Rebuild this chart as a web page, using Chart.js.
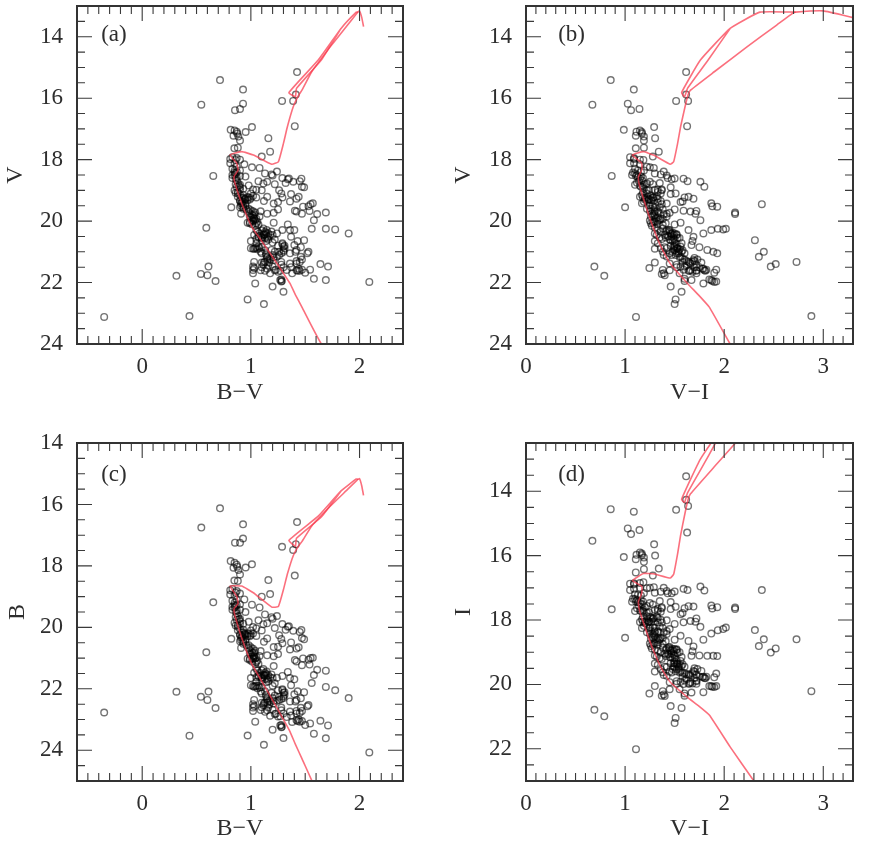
<!DOCTYPE html>
<html><head><meta charset="utf-8">
<script src="https://cdn.jsdelivr.net/npm/chart.js@4/dist/chart.umd.min.js"></script>
<style>
html,body{margin:0;padding:0;background:#fff;width:872px;height:846px;overflow:hidden}
canvas{position:absolute;filter:blur(0.55px)}
</style></head><body>
<canvas id="pa" width="436" height="424" style="left:0;top:0"></canvas>
<canvas id="pb" width="436" height="424" style="left:436px;top:0"></canvas>
<canvas id="pc" width="436" height="422" style="left:0;top:424px"></canvas>
<canvas id="pd" width="436" height="422" style="left:436px;top:424px"></canvas>
<script>
// Stars, one column per quantity (V magnitude, B-V colour, V-I colour)
const starV=[15.15,15.41,15.72,15.88,16.09,16.09,16.21,16.18,16.39,16.35,16.91,16.94,17.03,17.09,17.10,17.22,17.25,17.30,17.38,17.63,17.61,17.74,17.90,17.15,17.05,
17.92,17.95,18.00,18.01,17.98,18.12,18.12,18.15,18.23,18.25,18.27,18.30,18.42,18.45,18.48,18.39,18.52,18.50,18.53,18.58,18.55,18.50,18.53,18.35,
18.60,18.64,18.61,18.76,18.62,18.70,18.72,18.88,18.90,18.70,18.84,18.78,18.72,18.98,18.97,18.85,18.95,19.00,18.82,18.88,19.00,19.00,19.12,19.10,19.21,19.27,19.23,19.36,19.23,19.18,19.23,19.23,19.25,19.21,19.30,19.35,
19.21,19.35,19.43,19.38,19.53,19.42,19.52,19.45,19.66,19.69,19.67,19.76,19.77,19.72,19.97,19.62,19.73,19.76,19.68,19.68,19.75,19.55,19.48,19.55,19.76,19.60,19.80,19.85,19.92,19.97,20.07,20.05,20.07,20.05,20.11,
20.22,20.25,20.25,20.27,20.40,20.29,20.29,20.29,20.24,20.29,20.34,20.40,20.29,20.45,20.43,20.53,20.45,20.53,20.62,20.72,20.51,20.62,20.65,20.45,20.55,20.58,20.65,20.40,20.35,20.50,
20.72,20.88,20.88,20.83,20.88,20.83,20.78,20.85,20.88,20.94,21.00,21.00,20.94,21.05,21.16,21.10,21.05,21.05,20.95,21.00,21.00,20.80,20.90,21.10,21.15,
21.33,21.25,21.16,21.33,21.32,21.42,21.27,21.33,21.38,21.38,21.40,21.48,21.48,21.59,21.70,21.60,21.62,21.70,21.58,21.62,21.59,21.70,21.60,21.58,21.58,21.65,21.48,21.50,21.35,21.45,21.50,21.62,21.53,
21.78,21.72,21.76,21.48,21.95,21.88,21.92,22.03,22.13,21.92,21.97,22.30,21.98,22.55,22.70,23.12,23.09,
18.45,18.62,18.68,18.75,18.90,19.25,19.28,19.32,19.37,19.42,19.90,20.00,20.02,20.10,19.85,20.42,20.48,20.38,20.55,20.60,20.85,20.90,20.92,21.30,21.35,
20.30,20.35,20.40,20.45,20.50,20.55,20.60,20.65,20.70,20.75,20.80,20.85,20.95,21.00,21.05,21.10,21.18,21.22,21.30,21.42,21.55,21.62,21.68,21.90,21.95,18.35,18.40,18.60,18.80,19.10,19.15,19.50,19.60,19.70,19.95,
19.15,19.22,19.27,19.30,19.33,19.40,19.45,19.50,19.55,19.62,19.65,19.72,19.78,19.82,19.88,19.93,19.98,20.03,20.12,20.15,18.98,19.05,19.08,18.80,19.10,21.00,21.05,21.20,21.25,21.35,21.50,21.55,21.60];
const starBV=[1.425,.716,.928,1.414,1.389,1.287,.544,.928,.854,.90,1.404,1.01,.814,.87,.952,.84,.885,1.161,.90,.848,.88,1.177,1.10,.875,.85,
.83,.87,.90,.86,.81,.81,.85,.94,.87,1.01,1.08,.83,.85,1.13,1.19,1.24,1.20,.83,.90,.87,.95,.85,.654,.90,
1.29,1.34,1.35,1.32,1.465,1.45,1.39,1.47,1.49,1.07,.98,1.115,1.15,1.05,1.02,.89,.93,.85,.90,.87,1.26,1.10,1.37,1.28,1.44,1.42,1.29,1.36,1.05,1.02,.93,.98,1.00,.88,.95,.90,
1.15,1.12,1.21,1.25,1.48,1.57,1.53,1.55,1.405,1.42,1.54,1.47,1.61,1.69,1.58,1.25,1.21,1.15,1.09,1.02,.99,.90,.93,.82,.91,.98,1.01,1.08,1.05,1.04,.99,.97,1.05,1.21,1.34,
.59,1.56,1.69,1.776,1.90,1.29,1.36,1.40,1.115,1.146,1.19,1.24,1.05,1.177,1.13,1.10,1.03,1.07,1.10,1.29,1.37,1.49,1.43,1.12,1.15,1.05,1.00,1.08,1.06,1.16,
1.05,1.04,1.00,1.07,1.08,1.30,1.40,1.46,1.31,1.42,1.53,1.41,1.19,1.52,1.15,1.26,1.36,1.10,1.13,1.22,1.09,1.25,1.02,1.14,1.24,
1.45,1.47,1.46,1.03,1.13,1.115,1.21,1.28,1.36,1.42,1.64,1.71,1.02,1.02,1.02,1.09,1.13,1.177,1.23,1.27,1.33,1.38,1.42,1.47,1.545,1.25,1.20,1.30,1.10,1.16,1.37,1.43,1.03,
.315,.54,.60,.61,.675,1.58,1.69,1.04,1.20,1.27,1.28,1.30,2.09,.97,1.12,-.35,.435,
.86,.86,.87,.88,.90,.92,.94,.97,.92,.91,1.03,1.02,1.06,1.01,.99,1.12,1.09,1.14,1.13,1.16,1.05,1.03,1.06,1.15,1.17,
1.10,1.13,1.16,1.20,1.07,1.10,1.22,1.14,1.20,1.29,1.31,1.10,1.30,1.30,1.14,1.20,1.21,1.17,1.42,1.28,1.44,1.45,1.50,1.28,1.285,.85,.87,.83,.86,.88,.90,.95,.93,.98,1.01,
.93,.97,.95,.99,.90,.92,.95,.91,.93,.96,1.00,1.04,1.03,1.02,1.00,1.03,1.02,.99,1.07,1.04,.90,.88,.86,1.22,1.00,1.26,1.28,1.15,1.18,1.12,1.10,1.15,1.22];
const starVI=[1.616,.855,1.088,1.616,1.636,1.515,.67,1.027,1.06,1.145,1.626,1.293,.987,1.115,1.168,1.108,1.19,1.303,1.19,1.108,1.19,1.34,1.28,1.17,1.15,
1.05,1.09,1.15,1.185,1.09,1.05,1.09,1.15,1.22,1.25,1.29,1.10,1.08,1.30,1.36,1.39,1.42,1.07,1.11,1.13,1.16,1.12,.865,1.19,
1.43,1.47,1.50,1.35,1.59,1.63,1.76,1.80,1.46,1.14,1.18,1.22,1.25,1.33,1.37,1.15,1.19,1.22,1.10,1.16,1.37,1.24,1.46,1.51,1.64,1.69,1.60,1.58,1.28,1.26,1.22,1.18,1.28,1.15,1.20,1.22,
1.32,1.36,1.42,1.56,1.93,1.87,1.88,2.38,1.59,1.66,1.72,1.71,2.11,2.11,1.76,1.50,1.45,1.42,1.33,1.25,1.29,1.30,1.25,1.00,1.27,1.22,1.30,1.42,1.36,1.34,1.26,1.28,1.41,1.56,1.50,
1.30,1.936,2.017,1.99,1.79,1.44,1.64,1.87,1.38,1.45,1.41,1.46,1.33,1.49,1.52,1.35,1.40,1.41,1.46,1.57,1.69,2.31,1.68,1.32,1.55,1.37,1.30,1.30,1.36,1.44,
1.33,1.36,1.42,1.49,1.53,1.56,1.67,1.75,1.52,1.83,2.40,1.89,1.49,1.93,1.56,1.39,1.54,1.52,1.58,1.48,1.38,1.50,1.30,1.47,1.42,
2.73,1.60,2.35,1.58,1.64,1.52,1.69,1.68,1.45,1.66,2.52,2.47,1.56,1.38,1.39,1.45,1.65,1.55,1.59,1.64,1.66,1.72,1.80,1.82,1.92,1.68,1.60,1.70,1.30,1.62,1.52,1.72,1.245,
.79,1.37,1.40,.69,1.60,1.60,1.67,1.79,1.46,1.87,1.92,1.57,1.90,1.51,1.50,1.11,2.88,
1.10,1.15,1.17,1.12,1.18,1.20,1.24,1.26,1.19,1.17,1.31,1.29,1.33,1.33,1.26,1.47,1.43,1.48,1.49,1.50,1.50,1.53,1.55,1.62,1.65,
1.42,1.45,1.50,1.52,1.47,1.53,1.45,1.48,1.50,1.52,1.46,1.40,1.50,1.54,1.45,1.51,1.55,1.58,1.70,1.72,1.79,1.81,1.90,1.85,1.88,1.13,1.16,1.18,1.20,1.22,1.17,1.28,1.26,1.30,1.35,
1.25,1.29,1.33,1.24,1.29,1.33,1.37,1.24,1.35,1.38,1.30,1.34,1.39,1.28,1.33,1.38,1.25,1.30,1.38,1.27,1.30,1.33,1.18,1.28,1.36,1.57,1.60,1.70,1.73,1.77,1.75,1.78,1.72];
// Isochrone: main sequence to giant branch tip
const isoV=[25.30,24.00,22.80,22.40,22.03,21.38,20.89,20.18,19.42,18.77,18.55,18.34,18.12,17.85,17.74,17.85,18.15,18.07,17.47,16.93,16.28,15.90,15.74,15.14,14.33,13.62,13.24,13.20,13.16,13.37,13.67];
const isoBV=[2.00,1.65,1.47,1.41,1.36,1.24,1.146,1.008,.915,.854,.845,.882,.87,.808,.915,1.023,1.192,1.253,1.30,1.336,1.39,1.44,1.47,1.56,1.73,1.89,1.975,1.985,2.00,2.02,2.037];
const isoVI=[2.30,2.06,1.85,1.74,1.63,1.455,1.37,1.28,1.20,1.14,1.135,1.168,1.168,1.074,1.185,1.286,1.455,1.49,1.53,1.56,1.605,1.635,1.66,1.90,2.23,2.53,2.69,2.72,3.00,3.29,3.70];
// Isochrone: horizontal branch and asymptotic branch
const hbV=[13.20,13.20,13.73,14.76,15.82,15.95,15.68,14.75,13.73];
const hbBV=[1.985,1.97,1.83,1.62,1.35,1.41,1.42,1.65,1.83];
const hbVI=[2.72,2.36,2.06,1.76,1.57,1.60,1.63,1.84,2.06];
// Axis tick labels
const ticksBV=[0,1,2];
const ticksVI=[0,1,2,3];
const ticksV=[14,16,18,20,22,24];
const ticksI=[14,16,18,20,22];

const B=starV.map((v,i)=>v+starBV[i]);
const I=starV.map((v,i)=>v-starVI[i]);
const isoB=isoV.map((v,i)=>v+isoBV[i]);
const isoI=isoV.map((v,i)=>v-isoVI[i]);
const hbB=hbV.map((v,i)=>v+hbBV[i]);
const hbI=hbV.map((v,i)=>v-hbVI[i]);
const zip=(x,y)=>x.map((q,i)=>({x:q,y:y[i]}));

const INK='#2e2e2e', SERIF='"Liberation Serif","Times New Roman",serif';
const frame={id:'frame',afterDraw(ch,a,o){
  const c=ch.ctx,{left,right,top,bottom}=ch.chartArea,sx=ch.scales.x,sy=ch.scales.y;
  c.save();c.strokeStyle='#3a3a3a';c.lineWidth=1.1;c.beginPath();
  const run=(lo,hi,step,maj,f)=>{const n=Math.round((hi-lo)/step);for(let k=0;k<=n;k++){const v=lo+k*step;f(v,maj.some(m=>Math.abs(m-v)<1e-6)?15:8);}};
  run(o.xFrom,sx.max,0.1,o.xMajor,(v,l)=>{const p=sx.getPixelForValue(v);c.moveTo(p,top);c.lineTo(p,top+l);c.moveTo(p,bottom);c.lineTo(p,bottom-l);});
  run(o.yFrom,sy.max,0.5,o.yMajor,(v,l)=>{const p=sy.getPixelForValue(v);c.moveTo(left,p);c.lineTo(left+l,p);c.moveTo(right,p);c.lineTo(right-l,p);});
  c.stroke();
  c.lineWidth=2;c.strokeStyle='#333';c.strokeRect(left,top,right-left,bottom-top);
  c.fillStyle=INK;c.font='23px '+SERIF;c.textAlign='center';c.textBaseline='middle';
  c.fillText(o.tag,sx.getPixelForValue(o.tagX),sy.getPixelForValue(o.tagY));
  c.restore();
}};
const noPad=s=>{s.paddingTop=0;s.paddingBottom=0;s.paddingLeft=0;s.paddingRight=0;};

function panel(id,o){
  const H=o.H;
  new Chart(document.getElementById(id),{
    type:'scatter',
    data:{datasets:[
      {data:zip(o.isoX,o.isoY),showLine:true,pointRadius:0,borderColor:'rgba(250,55,75,.72)',borderWidth:1.6,tension:.12,order:1},
      {data:zip(o.hbX,o.hbY),showLine:true,pointRadius:0,borderColor:'rgba(250,55,75,.72)',borderWidth:1.6,tension:.12,order:1},
      {data:zip(o.sx,o.sy),pointStyle:'circle',pointRadius:3.3,borderWidth:1.4,pointBackgroundColor:'rgba(0,0,0,0)',pointBorderColor:'rgba(0,0,0,.55)',order:2}
    ]},
    options:{
      responsive:false,animation:false,devicePixelRatio:1,
      layout:{padding:{left:0,top:o.top,right:436-o.right,bottom:0}},
      plugins:{legend:{display:false},tooltip:{enabled:false},title:{display:false},
        frame:{tag:o.tag,tagX:o.tagX,tagY:o.tagY,xFrom:o.xmin,xMajor:o.xt,yFrom:o.ymin,yMajor:o.yt}},
      scales:{
        x:{type:'linear',min:o.xmin,max:o.xmax,border:{display:false},grid:{display:false,drawTicks:false},
          afterBuildTicks(s){s.ticks=o.xt.map(v=>({value:v}));},
          afterFit(s){s.height=H-o.bottom;noPad(s);},
          ticks:{color:INK,font:{family:SERIF,size:23},padding:9,autoSkip:false,maxRotation:0,callback:v=>String(v)},
          title:{display:true,text:o.xlabel,color:INK,font:{family:SERIF,size:24},padding:{top:0,bottom:o.xtPad}}},
        y:{type:'linear',reverse:true,min:o.ymin,max:o.ymax,border:{display:false},grid:{display:false,drawTicks:false},
          afterBuildTicks(s){s.ticks=o.yt.map(v=>({value:v}));},
          afterFit(s){s.width=o.left;noPad(s);},
          ticks:{color:INK,font:{family:SERIF,size:23},padding:14,autoSkip:false,callback:v=>String(v)},
          title:{display:true,text:o.ylabel,color:INK,font:{family:SERIF,size:24},padding:{top:o.ytPad,bottom:0}}}
      }
    },
    plugins:[frame]
  });
}
const pl={H:424,top:6,bottom:344};
const pc={H:422,top:19,bottom:357};
panel('pa',{...pl,left:77,right:403,ytPad:1,xtPad:17,xmin:-.6,xmax:2.4,ymin:13,ymax:24,xt:ticksBV,yt:ticksV,xlabel:'B\u2212V',ylabel:'V',tag:'(a)',tagX:-.26,tagY:13.95,
  sx:starBV,sy:starV,isoX:isoBV,isoY:isoV,hbX:hbBV,hbY:hbV});
panel('pb',{...pl,left:90,right:417,ytPad:13,xtPad:17,xmin:0,xmax:3.3,ymin:13,ymax:24,xt:ticksVI,yt:ticksV,xlabel:'V\u2212I',ylabel:'V',tag:'(b)',tagX:.46,tagY:13.95,
  sx:starVI,sy:starV,isoX:isoVI,isoY:isoV,hbX:hbVI,hbY:hbV});
panel('pc',{...pc,left:77,right:403,ytPad:3,xtPad:3,xmin:-.6,xmax:2.4,ymin:14,ymax:25,xt:ticksBV,yt:ticksV,xlabel:'B\u2212V',ylabel:'B',tag:'(c)',tagX:-.26,tagY:15.04,
  sx:starBV,sy:B,isoX:isoBV,isoY:isoB,hbX:hbBV,hbY:hbB});
panel('pd',{...pc,left:90,right:417,ytPad:13,xtPad:3,xmin:0,xmax:3.3,ymin:12.5,ymax:23,xt:ticksVI,yt:ticksI,xlabel:'V\u2212I',ylabel:'I',tag:'(d)',tagX:.46,tagY:13.5,
  sx:starVI,sy:I,isoX:isoVI,isoY:isoI,hbX:hbVI,hbY:hbI});
</script>
</body></html>
